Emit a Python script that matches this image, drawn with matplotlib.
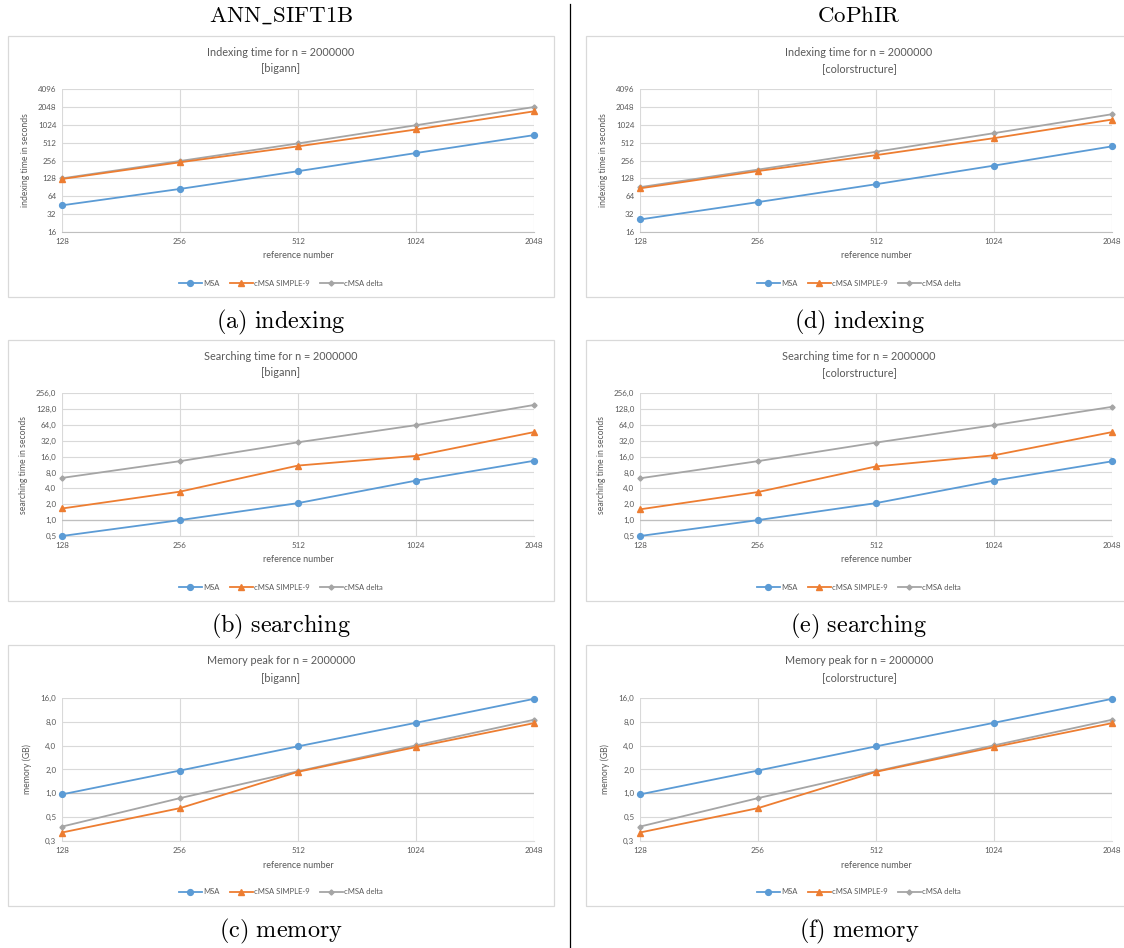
import numpy as np
import matplotlib
matplotlib.use("Agg")
import matplotlib.pyplot as plt
from matplotlib.patches import Rectangle
from matplotlib.lines import Line2D

plt.rcParams["mathtext.fontset"] = "cm"
plt.rcParams["font.family"] = ["Lato", "DejaVu Sans"]

# ---- data ----
refs = [128, 256, 512, 1024, 2048]
series_names = ["MSA", "cMSA SIMPLE-9", "cMSA delta"]

idx_sift_msa = [45, 85, 169, 342, 685]
idx_sift_s9 = [125, 239, 443, 852, 1724]
idx_sift_delta = [128, 251, 496, 1005, 2037]

idx_cophir_msa = [26, 51, 102, 210, 443]
idx_cophir_s9 = [87, 170, 315, 609, 1252]
idx_cophir_delta = [91, 180, 359, 739, 1540]

search_sift_msa = [0.5, 1.0, 2.1, 5.6, 13.3]
search_sift_s9 = [1.66, 3.46, 10.8, 16.5, 46.5]
search_sift_delta = [6.3, 13.1, 29.8, 63, 152]

search_cophir_msa = [0.5, 1.0, 2.1, 5.6, 13.0]
search_cophir_s9 = [1.6, 3.4, 10.4, 16.9, 46.5]
search_cophir_delta = [6.2, 13.1, 29.4, 63, 140]

mem_sift_msa = [0.97, 1.94, 3.92, 7.78, 15.6]
mem_sift_s9 = [0.32, 0.65, 1.87, 3.84, 7.7]
mem_sift_delta = [0.38, 0.87, 1.90, 4.03, 8.5]

mem_cophir_msa = [0.97, 1.94, 3.92, 7.78, 15.6]
mem_cophir_s9 = [0.32, 0.65, 1.87, 3.84, 7.7]
mem_cophir_delta = [0.38, 0.87, 1.90, 4.03, 8.5]

idx_ticks = [16, 32, 64, 128, 256, 512, 1024, 2048, 4096]
idx_labels = [str(t) for t in idx_ticks]
search_ticks = [0.5, 1, 2, 4, 8, 16, 32, 64, 128, 256]
search_labels = ["0,5", "1,0", "2,0", "4,0", "8,0", "16,0", "32,0", "64,0", "128,0", "256,0"]
mem_ticks = [0.25, 0.5, 1, 2, 4, 8, 16]
mem_labels = ["0,3", "0,5", "1,0", "2,0", "4,0", "8,0", "16,0"]

col_headers = ["ANN\\_SIFT1B", "CoPhIR"]
datasets = ["bigann", "colorstructure"]

rows = [
    # (title, ylabel, ticks, labels, axis-cross, [sift series], [cophir series], captions)
    ("Indexing time for n = 2000000", "indexing time in seconds", idx_ticks, idx_labels, None,
     [idx_sift_msa, idx_sift_s9, idx_sift_delta],
     [idx_cophir_msa, idx_cophir_s9, idx_cophir_delta], ["(a) indexing", "(d) indexing"]),
    ("Searching time for n = 2000000", "searching time in seconds", search_ticks, search_labels, 1,
     [search_sift_msa, search_sift_s9, search_sift_delta],
     [search_cophir_msa, search_cophir_s9, search_cophir_delta], ["(b) searching", "(e) searching"]),
    ("Memory peak for n = 2000000", "memory (GB)", mem_ticks, mem_labels, 1,
     [mem_sift_msa, mem_sift_s9, mem_sift_delta],
     [mem_cophir_msa, mem_cophir_s9, mem_cophir_delta], ["(c) memory", "(f) memory"]),
]

colors = ["#5B9BD5", "#ED7D31", "#A5A5A5"]
markers = ["o", "^", "D"]
msizes = [4.2, 4.2, 2.6]
TXT = "#595959"
GRID = "#D9D9D9"

W, H = 1124, 948
fig = plt.figure(figsize=(W / 100, H / 100), dpi=100)


def fx(px):
    return px / W


def fy(py):
    return 1 - py / H


box_x = [8, 586]
box_w = 546
box_y = [36, 340, 645]
box_h = 261
col_cx = [281, 859]

# column headers and separator
for c in range(2):
    fig.text(fx(col_cx[c]), fy(15), "$\\mathrm{%s}$" % col_headers[c], ha="center", va="center",
             fontsize=16.5, color="black")
fig.add_artist(Line2D([fx(570), fx(570)], [fy(4), fy(948)], color="black", lw=0.9,
                      transform=fig.transFigure))

x = np.arange(len(refs))
for r, (title, ylab, ticks, tlabels, cross, sift, cophir, caps) in enumerate(rows):
    for c in range(2):
        bx, by = box_x[c], box_y[r]
        fig.add_artist(Rectangle((fx(bx), fy(by + box_h)), box_w / W, box_h / H,
                                 transform=fig.transFigure, fill=False, ec=GRID, lw=0.9))
        cx = bx + box_w / 2
        fig.text(fx(cx), fy(by + 16), title, ha="center", va="center", fontsize=7.8, color=TXT)
        fig.text(fx(cx), fy(by + 33), "[%s]" % datasets[c], ha="center", va="center",
                 fontsize=7.8, color=TXT)

        left, right = bx + 54, bx + box_w - 20
        top, bottom = by + 53, by + 196
        ax = fig.add_axes([fx(left), fy(bottom), (right - left) / W, (bottom - top) / H])
        data = sift if c == 0 else cophir
        for s in range(3):
            ax.plot(x, data[s], color=colors[s], marker=markers[s], ms=msizes[s], lw=1.3,
                    clip_on=False, zorder=3 + (2 - s) * 0.1, label=series_names[s])
        ax.set_yscale("log", base=2)
        ax.set_ylim(ticks[0], ticks[-1])
        ax.set_xlim(0, len(refs) - 1)
        ax.set_yticks(ticks)
        ax.set_yticklabels(tlabels)
        ax.minorticks_off()
        ax.set_xticks(x)
        ax.set_xticklabels([str(v) for v in refs])
        ax.tick_params(length=0, labelsize=5.8, colors=TXT, pad=4)
        ax.grid(True, color=GRID, lw=0.8)
        ax.set_axisbelow(True)
        for sp in ["top", "right", "left"]:
            ax.spines[sp].set_visible(False)
        ax.spines["bottom"].set_color(GRID if cross else "#BFBFBF")
        ax.spines["bottom"].set_linewidth(0.8)
        if cross:
            ax.axhline(cross, color="#BFBFBF", lw=0.9, zorder=1)
        ax.set_ylabel(ylab, fontsize=6.2, color=TXT, labelpad=6)
        ax.set_xlabel("reference number", fontsize=6.5, color=TXT, labelpad=5)

        handles, labels = ax.get_legend_handles_labels()
        fig.legend(handles, labels, loc="center", bbox_to_anchor=(fx(cx), fy(by + 247)),
                   ncol=3, frameon=False, fontsize=5.5, labelcolor=TXT, handlelength=3.0,
                   handletextpad=0.2, columnspacing=1.3, borderaxespad=0)

        fig.text(fx(col_cx[c]), fy(by + box_h + 25), "$\\mathrm{%s}$" % caps[c].replace(" ", "\\ "),
                 ha="center", va="center", fontsize=17.5, color="black")

fig.savefig("out.png", dpi=100, facecolor="white")
